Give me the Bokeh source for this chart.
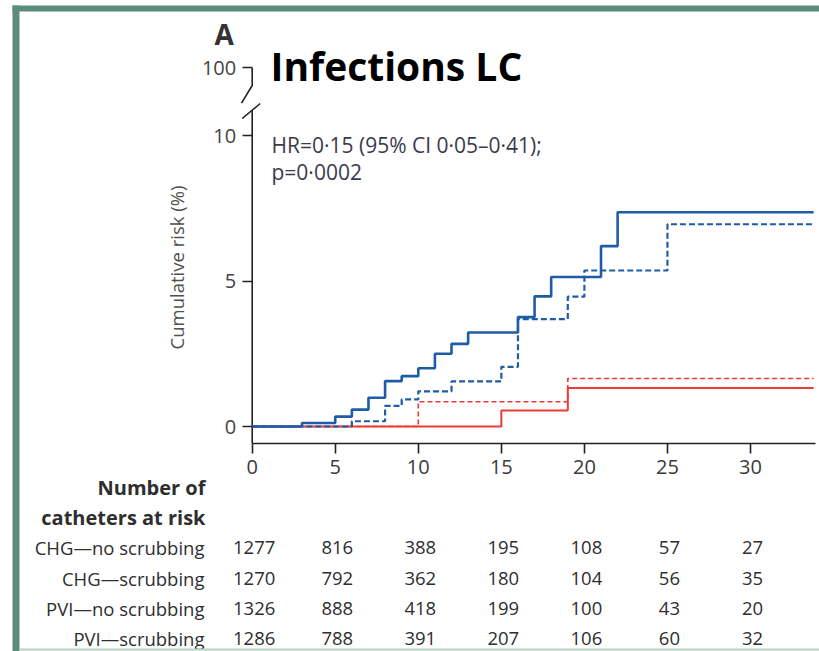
import numpy as np
from bokeh.plotting import figure
from bokeh.models import Range1d, FixedTicker, Label, LabelSet, ColumnDataSource, BoxAnnotation
from bokeh.embed import file_html
from bokeh.resources import INLINE
from bokeh.core.properties import value

# ---------------- data ----------------
tick_days = [0, 5, 10, 15, 20, 25, 30]

blue_solid_t = [0, 3, 5, 6, 7, 8, 9, 10, 11, 12, 13, 16, 17, 18, 21, 22, 33.8]
blue_solid_y = [0, 0.12, 0.34, 0.58, 0.99, 1.56, 1.73, 2.0, 2.5, 2.84, 3.23, 3.76, 4.47, 5.14, 6.2, 7.36, 7.36]

blue_dash_t = [0, 6, 8, 9, 10, 12, 15, 16, 19, 20, 25, 33.8]
blue_dash_y = [0, 0.18, 0.71, 0.93, 1.21, 1.55, 2.05, 3.69, 4.46, 5.36, 6.95, 6.95]

red_solid_t = [0, 15, 19, 33.8]
red_solid_y = [0, 0.55, 1.32, 1.32]

red_dash_t = [0, 10, 19, 33.8]
red_dash_y = [0, 0.85, 1.65, 1.65]

group_names = ["CHG\u2014no scrubbing", "CHG\u2014scrubbing", "PVI\u2014no scrubbing", "PVI\u2014scrubbing"]
risk_chg_no = [1277, 816, 388, 195, 108, 57, 27]
risk_chg_scrub = [1270, 792, 362, 180, 104, 56, 35]
risk_pvi_no = [1326, 888, 418, 199, 100, 43, 20]
risk_pvi_scrub = [1286, 788, 391, 207, 106, 60, 32]

hr_line1 = "HR=0\u00b715 (95% CI 0\u00b705\u20130\u00b741);"
hr_line2 = "p=0\u00b70002"

# ---------------- layout (canvas pixels) ----------------
W, H = 819, 651
X_ZERO_PX, PX_PER_X = 251.7, 16.61
Y_ZERO_PX, PX_PER_Y = 426.0, 29.1


def dx(px):
    return (px - X_ZERO_PX) / PX_PER_X


def dy(py):
    return (Y_ZERO_PX - py) / PX_PER_Y


x_start, x_end = dx(0), dx(W)
y_start, y_end = dy(H), dy(0)
Y100 = round(dy(67.5), 3)
Y_XAXIS = dy(443)

BLUE = "#1f5ca8"
RED = "#ee3a35"
AXIS = "#222222"
TXT = "#2e2e2e"
FONT = "Open Sans"

p = figure(width=W, height=H, output_backend="svg", toolbar_location=None,
           x_range=Range1d(x_start, x_end), y_range=Range1d(y_start, y_end),
           min_border_left=0, min_border_right=0, min_border_top=0, min_border_bottom=0)
p.outline_line_color = None
p.xgrid.visible = False
p.ygrid.visible = False
p.background_fill_color = "white"
p.border_fill_color = "white"

# x axis
p.xaxis.fixed_location = Y_XAXIS
p.xaxis.ticker = FixedTicker(ticks=tick_days)
p.xaxis.bounds = (0, dx(815))
p.xaxis.axis_line_color = AXIS
p.xaxis.axis_line_width = 1.6
p.xaxis.major_tick_line_color = AXIS
p.xaxis.major_tick_line_width = 1.6
p.xaxis.major_tick_out = 10
p.xaxis.major_tick_in = 0
p.xaxis.minor_tick_line_color = None
p.xaxis.major_label_standoff = 6
p.xaxis.major_label_text_font = FONT
p.xaxis.major_label_text_font_size = "20px"
p.xaxis.major_label_text_color = "#3a3a3a"

# y axis (its line is drawn below, with a break)
p.yaxis.fixed_location = 0
p.yaxis.ticker = FixedTicker(ticks=[0, 5, 10, Y100])
p.yaxis.major_label_overrides = {Y100: "100"}
p.yaxis.axis_line_color = None
p.yaxis.major_tick_line_color = AXIS
p.yaxis.major_tick_line_width = 1.6
p.yaxis.major_tick_in = 0
p.yaxis.major_tick_out = 10
p.yaxis.minor_tick_line_color = None
p.yaxis.major_label_standoff = 6
p.yaxis.major_label_text_font = FONT
p.yaxis.major_label_text_font_size = "20px"
p.yaxis.major_label_text_color = "#444444"

# broken y-axis line
p.line([0, 0], [Y_XAXIS, dy(110)], line_color=AXIS, line_width=1.6)
p.line([0, 0, dx(241)], [Y100, dy(85), dy(102.7)], line_color=AXIS, line_width=1.6)
p.line([dx(241.7), dx(259.7)], [dy(118), dy(103)], line_color=AXIS, line_width=1.6)

# curves
p.step(red_dash_t, red_dash_y, mode="after", line_color=RED, line_width=1.6, line_dash="5 3")
p.step(red_solid_t, red_solid_y, mode="after", line_color=RED, line_width=2.0)
p.step(blue_dash_t, blue_dash_y, mode="after", line_color=BLUE, line_width=2.2, line_dash="6 3")
p.step(blue_solid_t, blue_solid_y, mode="after", line_color=BLUE, line_width=2.6)

# texts
p.add_layout(Label(x=dx(270), y=dy(65), text="Infections LC", text_font=FONT,
                   text_font_style="bold", text_font_size="39px", text_color="black",
                   text_baseline="middle"))
p.add_layout(Label(x=dx(214), y=dy(33), text="A", text_font=FONT,
                   text_font_style="bold", text_font_size="28px", text_color="#333333",
                   text_baseline="middle"))
p.add_layout(Label(x=dx(271), y=dy(144), text=hr_line1, text_font=FONT,
                   text_font_size="21px", text_color="#3a3a4c", text_baseline="middle"))
p.add_layout(Label(x=dx(271), y=dy(171), text=hr_line2, text_font=FONT,
                   text_font_size="21px", text_color="#3a3a4c", text_baseline="middle"))
p.add_layout(Label(x=dx(176), y=dy(267), text="Cumulative risk (%)", text_font=FONT,
                   text_font_size="18.5px", text_color="#505050", angle=np.pi / 2,
                   text_align="center", text_baseline="middle"))

# number at risk table
p.add_layout(Label(x=dx(205), y=dy(487), text="Number of", text_font=FONT,
                   text_font_style="bold", text_font_size="20px", text_color=TXT,
                   text_align="right", text_baseline="middle"))
p.add_layout(Label(x=dx(205), y=dy(517), text="catheters at risk", text_font=FONT,
                   text_font_style="bold", text_font_size="20px", text_color=TXT,
                   text_align="right", text_baseline="middle"))

row_px = [547, 578, 608, 638]
row_y = [dy(v) for v in row_px]
rows = [risk_chg_no, risk_chg_scrub, risk_pvi_no, risk_pvi_scrub]

name_src = ColumnDataSource(dict(x=[dx(204)] * 4, y=row_y, text=group_names))
p.add_layout(LabelSet(x="x", y="y", text="text", source=name_src,
                      text_font=value(FONT), text_font_size=value("18.5px"),
                      text_color=TXT, text_align="right", text_baseline="middle"))

num_x, num_y, num_t = [], [], []
for yy, vals in zip(row_y, rows):
    for t, v in zip(tick_days, vals):
        num_x.append(t)
        num_y.append(yy)
        num_t.append(str(v))
num_src = ColumnDataSource(dict(x=num_x, y=num_y, text=num_t))
p.add_layout(LabelSet(x="x", y="y", text="text", source=num_src, x_offset=2,
                      text_font=value(FONT), text_font_size=value("18.5px"),
                      text_color=TXT, text_align="center", text_baseline="middle"))

# green frame of the panel
GREEN = "#5b8d7b"
p.add_layout(BoxAnnotation(left=dx(12), right=dx(19), bottom=dy(H), top=dy(5),
                           fill_color=GREEN, fill_alpha=1.0, line_color=None))
p.add_layout(BoxAnnotation(left=dx(12), right=dx(W), bottom=dy(11), top=dy(5),
                           fill_color=GREEN, fill_alpha=1.0, line_color=None))
p.add_layout(BoxAnnotation(left=dx(19), right=dx(W), bottom=dy(650), top=dy(648),
                           fill_color="#b9d0c6", fill_alpha=1.0, line_color=None))

open("out.html", "w").write(file_html(p, INLINE))
